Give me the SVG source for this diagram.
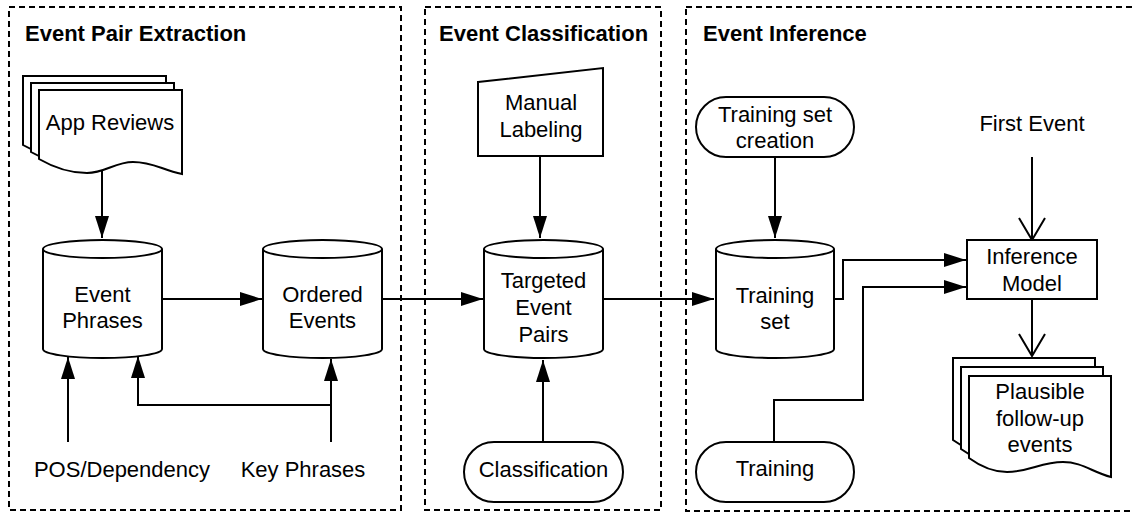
<svg xmlns="http://www.w3.org/2000/svg" width="1133" height="514" viewBox="0 0 1133 514">
<style>
.panel{fill:none;stroke:#000;stroke-width:2;stroke-dasharray:6 4}
.shape{fill:#fff;stroke:#000;stroke-width:2}
.title{font-family:"Liberation Sans",Arial,sans-serif;font-size:22px;font-weight:bold;fill:#000}
.t{font-family:"Liberation Sans",Arial,sans-serif;font-size:22px;fill:#000;text-anchor:middle}
.c{fill:none;stroke:#000;stroke-width:2}
.f{marker-end:url(#tri)}
.o{marker-end:url(#open)}
</style>
<defs>
<marker id="tri" markerUnits="userSpaceOnUse" markerWidth="24" markerHeight="16" refX="22" refY="7" orient="auto">
<path d="M0,0 L22,7 L0,14 Z" fill="#000"/>
</marker>
<marker id="open" markerUnits="userSpaceOnUse" markerWidth="26" markerHeight="30" refX="23" refY="14" orient="auto">
<path d="M1,1 L23,14 L1,27" fill="none" stroke="#000" stroke-width="2"/>
</marker>
<path id="docA" d="M39,90 H182 V174 C162,170 153,162 133,162 C115,162 105,173 87,173 C73,173 58,170 39,159 Z"/>
<path id="docB" d="M969,376 H1111 V477 C1092,472 1082,462 1063,462 C1041,462 1029,472 1007,472 C996,472 984,469 969,458 Z"/>
</defs>
<rect width="1133" height="514" fill="#fff"/>
<g id="panels">
<rect class="panel" x="9" y="7" width="392" height="503"/>
<rect class="panel" x="425" y="7" width="236" height="503"/>
<rect class="panel" x="686" y="7" width="460" height="504"/>
<text class="title" x="25" y="41">Event Pair Extraction</text>
<text class="title" x="439" y="41">Event Classification</text>
<text class="title" x="703" y="41">Event Inference</text>
</g>
<g id="connectors">
<path class="c f" d="M102,171 V238"/>
<path class="c f" d="M162,299 H262"/>
<path class="c f" d="M68,442 V357"/>
<path class="c f" d="M331,442 V359"/>
<path class="c f" d="M331,405 H138 V356"/>
<path class="c f" d="M382,299 H483"/>
<path class="c f" d="M540,156 V238"/>
<path class="c f" d="M543,442 V360"/>
<path class="c f" d="M603,299 H714"/>
<path class="c f" d="M775,157 V238"/>
<path class="c f" d="M834,299 H843 V260 H966"/>
<path class="c f" d="M774,442 V400 H863 V287 H966"/>
<path class="c o" d="M1032,157 V240"/>
<path class="c o" d="M1032,299 V356"/>
</g>
<g id="app-reviews">
<use href="#docA" class="shape" transform="translate(-16,-14)"/>
<use href="#docA" class="shape" transform="translate(-8,-7)"/>
<use href="#docA" class="shape"/>
<text class="t" x="110" y="130">App Reviews</text>
</g>
<g id="event-phrases">
<path class="shape" d="M43,249 A59.5,9 0 0 1 162,249 V349 A59.5,9 0 0 1 43,349 Z"/>
<path class="c" d="M43,249 A59.5,9 0 0 0 162,249"/>
<text class="t" x="102.5" y="302">Event</text>
<text class="t" x="102.5" y="328">Phrases</text>
</g>
<g id="ordered-events">
<path class="shape" d="M263,249 A59.5,9 0 0 1 382,249 V349 A59.5,9 0 0 1 263,349 Z"/>
<path class="c" d="M263,249 A59.5,9 0 0 0 382,249"/>
<text class="t" x="322.5" y="302">Ordered</text>
<text class="t" x="322.5" y="328">Events</text>
</g>
<g id="pos-dependency">
<text class="t" x="122" y="477">POS/Dependency</text>
</g>
<g id="key-phrases">
<text class="t" x="303" y="477">Key Phrases</text>
</g>
<g id="manual-labeling">
<polygon class="shape" points="478,82 603,68 603,156 478,156"/>
<text class="t" x="541" y="110">Manual</text>
<text class="t" x="541" y="137">Labeling</text>
</g>
<g id="targeted-event-pairs">
<path class="shape" d="M484,249 A59.5,9 0 0 1 603,249 V349 A59.5,9 0 0 1 484,349 Z"/>
<path class="c" d="M484,249 A59.5,9 0 0 0 603,249"/>
<text class="t" x="543.5" y="288">Targeted</text>
<text class="t" x="543.5" y="315">Event</text>
<text class="t" x="543.5" y="342">Pairs</text>
</g>
<g id="classification">
<rect class="shape" x="464" y="442" width="159" height="60" rx="30" ry="30"/>
<text class="t" x="543.5" y="477">Classification</text>
</g>
<g id="training-set-creation">
<rect class="shape" x="696" y="97" width="158" height="60" rx="30" ry="30"/>
<text class="t" x="775" y="122">Training set</text>
<text class="t" x="775" y="148">creation</text>
</g>
<g id="training-set">
<path class="shape" d="M716,249 A59,9 0 0 1 834,249 V349 A59,9 0 0 1 716,349 Z"/>
<path class="c" d="M716,249 A59,9 0 0 0 834,249"/>
<text class="t" x="775" y="303">Training</text>
<text class="t" x="775" y="329">set</text>
</g>
<g id="training">
<rect class="shape" x="696" y="442" width="158" height="60" rx="30" ry="30"/>
<text class="t" x="775" y="476">Training</text>
</g>
<g id="first-event">
<text class="t" x="1032" y="131">First Event</text>
</g>
<g id="inference-model">
<rect class="shape" x="967" y="240" width="130" height="59"/>
<text class="t" x="1032" y="264">Inference</text>
<text class="t" x="1032" y="291">Model</text>
</g>
<g id="plausible-events">
<use href="#docB" class="shape" transform="translate(-16,-18)"/>
<use href="#docB" class="shape" transform="translate(-8,-9)"/>
<use href="#docB" class="shape"/>
<text class="t" x="1040" y="399">Plausible</text>
<text class="t" x="1040" y="426">follow-up</text>
<text class="t" x="1040" y="452">events</text>
</g>
</svg>
